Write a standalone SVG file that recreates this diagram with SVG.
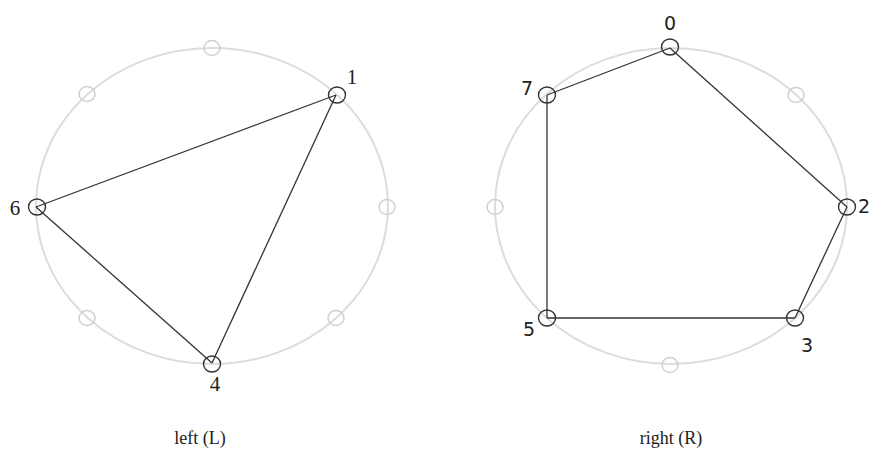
<svg xmlns="http://www.w3.org/2000/svg" width="869" height="453" viewBox="0 0 869 453">
<style>
.ring{fill:none;stroke:#dcdcdc;stroke-width:2}
.empty{fill:none;stroke:#d0d0d0;stroke-width:1.5}
.node{fill:none;stroke:#333;stroke-width:1.4}
.edge{stroke:#333;stroke-width:1.3;fill:none}
.ls{font-family:"Liberation Serif",serif;font-size:21px;fill:#222;text-anchor:middle;dominant-baseline:central}
.rs{font-family:"DejaVu Sans",sans-serif;font-size:19px;fill:#222;text-anchor:middle;dominant-baseline:central}
.cap{font-family:"Liberation Serif",serif;font-size:18px;fill:#222;text-anchor:middle}
</style>
<rect width="869" height="453" fill="#fff"/>
<g id="left-ring"><ellipse class="ring" cx="212" cy="206" rx="176" ry="158"/></g>
<g id="right-ring"><ellipse class="ring" cx="671" cy="206" rx="176" ry="158"/></g>
<g id="connectors">
<line class="edge" x1="36" y1="207" x2="336" y2="95"/>
<line class="edge" x1="336" y1="95" x2="212" y2="363"/>
<line class="edge" x1="36" y1="207" x2="212" y2="363"/>
<line class="edge" x1="670" y1="48" x2="547" y2="95"/>
<line class="edge" x1="670" y1="48" x2="847" y2="207"/>
<line class="edge" x1="847" y1="207" x2="795" y2="318"/>
<line class="edge" x1="795" y1="318" x2="547" y2="318"/>
<line class="edge" x1="547" y1="318" x2="547" y2="95"/>
</g>
<g id="L-e0"><ellipse class="empty" cx="212" cy="48" rx="8" ry="7.5"/></g>
<g id="L-e7"><ellipse class="empty" cx="87" cy="94" rx="8" ry="7.5"/></g>
<g id="L-e2"><ellipse class="empty" cx="387" cy="207" rx="8" ry="7.5"/></g>
<g id="L-e5"><ellipse class="empty" cx="87" cy="318" rx="8" ry="7.5"/></g>
<g id="L-e3"><ellipse class="empty" cx="336" cy="318" rx="8" ry="7.5"/></g>
<g id="L-n1"><ellipse class="node" cx="337" cy="95" rx="8.5" ry="8"/><text class="ls" x="352" y="77">1</text></g>
<g id="L-n6"><ellipse class="node" cx="37" cy="207" rx="8.5" ry="8"/><text class="ls" x="15" y="208">6</text></g>
<g id="L-n4"><ellipse class="node" cx="212" cy="364" rx="8.5" ry="8"/><text class="ls" x="215" y="384">4</text></g>
<g id="R-e1"><ellipse class="empty" cx="796" cy="95" rx="8" ry="7.5"/></g>
<g id="R-e6"><ellipse class="empty" cx="495" cy="207" rx="8" ry="7.5"/></g>
<g id="R-e4"><ellipse class="empty" cx="670" cy="365" rx="8" ry="7.5"/></g>
<g id="R-n0"><ellipse class="node" cx="670" cy="47" rx="8.5" ry="8"/><text class="rs" x="670" y="23">0</text></g>
<g id="R-n7"><ellipse class="node" cx="547" cy="95" rx="8.5" ry="8"/><text class="rs" x="527" y="88">7</text></g>
<g id="R-n2"><ellipse class="node" cx="847" cy="207" rx="8.5" ry="8"/><text class="rs" x="864" y="206">2</text></g>
<g id="R-n5"><ellipse class="node" cx="547" cy="318" rx="8.5" ry="8"/><text class="rs" x="529" y="329">5</text></g>
<g id="R-n3"><ellipse class="node" cx="795" cy="318" rx="8.5" ry="8"/><text class="rs" x="807" y="345">3</text></g>
<g id="captions">
<text class="cap" x="200" y="444">left (L)</text>
<text class="cap" x="671" y="444">right (R)</text>
</g>
</svg>
